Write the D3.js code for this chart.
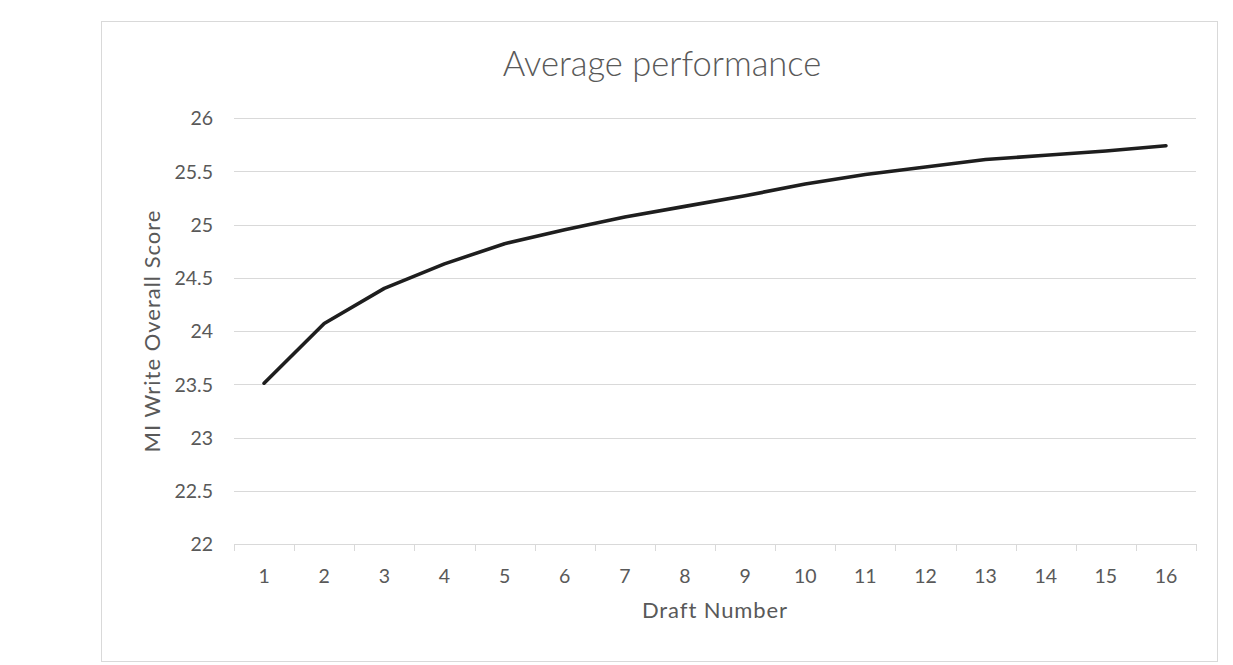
<!DOCTYPE html>
<html>
<head>
<meta charset="utf-8">
<script src="https://cdn.jsdelivr.net/npm/d3@7"></script>
<style>
  html, body { margin: 0; padding: 0; background: #ffffff; }
  svg { display: block; }
  text { font-family: Lato, "Open Sans", sans-serif; fill: #595959; }
</style>
</head>
<body>
<svg id="chart" width="1233" height="665"></svg>
<script>
const drafts = ["1","2","3","4","5","6","7","8","9","10","11","12","13","14","15","16"];
const scores = [23.51, 24.07, 24.40, 24.63, 24.82, 24.95, 25.07, 25.17, 25.27, 25.38, 25.47, 25.54, 25.61, 25.65, 25.69, 25.74];
const yTicks = [22, 22.5, 23, 23.5, 24, 24.5, 25, 25.5, 26];
const chartTitle = "Average performance";
const xTitle = "Draft Number";
const yTitle = "MI Write Overall Score";

const W = 1233, H = 665;
const frame = {x0: 101, y0: 21, x1: 1217, y1: 661};
const plot = {left: 234, right: 1196, top: 118, bottom: 544};

const svg = d3.select("#chart");

svg.append("rect")
  .attr("x", frame.x0 + 0.5).attr("y", frame.y0 + 0.5)
  .attr("width", frame.x1 - frame.x0).attr("height", frame.y1 - frame.y0)
  .attr("fill", "#fff").attr("stroke", "#d9d9d9").attr("stroke-width", 1);

const x = d3.scaleBand().domain(drafts).range([plot.left, plot.right]).padding(0);
const y = d3.scaleLinear().domain([22, 26]).range([plot.bottom, plot.top]);

// gridlines
svg.append("g")
  .selectAll("line")
  .data(yTicks.filter(t => t !== 22))
  .join("line")
  .attr("x1", plot.left).attr("x2", plot.right)
  .attr("y1", d => Math.round(y(d)) + 0.5).attr("y2", d => Math.round(y(d)) + 0.5)
  .attr("stroke", "#d9d9d9").attr("stroke-width", 1);

// y axis labels
const yAxis = d3.axisLeft(y).tickValues(yTicks).tickSize(0).tickPadding(0)
  .tickFormat(d => String(d));
const gy = svg.append("g").attr("transform", `translate(${plot.left - 21},0)`).call(yAxis);
gy.select(".domain").remove();
gy.selectAll("text").attr("font-size", 19.5).attr("fill", "#595959")
  .style("font-family", "Lato, 'Open Sans', sans-serif").attr("dy", "0.35em");

// x axis
const xAxis = d3.axisBottom(x).tickSize(0).tickPadding(0);
const gx = svg.append("g").attr("transform", `translate(0,${plot.bottom})`).call(xAxis);
gx.select(".domain").remove();
gx.selectAll("text").attr("font-size", 19.5).attr("fill", "#595959")
  .style("font-family", "Lato, 'Open Sans', sans-serif").attr("dy", 0).attr("y", 39);

// x axis line and boundary ticks
const bounds = drafts.map(d => x(d)).concat([x(drafts[drafts.length - 1]) + x.bandwidth()]);
svg.append("line")
  .attr("x1", plot.left).attr("x2", plot.right)
  .attr("y1", plot.bottom + 0.5).attr("y2", plot.bottom + 0.5)
  .attr("stroke", "#d9d9d9").attr("stroke-width", 1);
svg.append("g").selectAll("line").data(bounds).join("line")
  .attr("x1", d => Math.round(d) + 0.5).attr("x2", d => Math.round(d) + 0.5)
  .attr("y1", plot.bottom).attr("y2", plot.bottom + 7)
  .attr("stroke", "#d9d9d9").attr("stroke-width", 1);

// line
const line = d3.line()
  .x((d, i) => x(drafts[i]) + x.bandwidth() / 2)
  .y(d => y(d));
svg.append("path")
  .datum(scores)
  .attr("d", line)
  .attr("fill", "none")
  .attr("stroke", "#1e1e1e")
  .attr("stroke-width", 3.6)
  .attr("stroke-linejoin", "round")
  .attr("stroke-linecap", "round");

// titles
svg.append("text")
  .attr("x", 662).attr("y", 76)
  .attr("text-anchor", "middle")
  .attr("font-size", 34.5)
  .attr("font-weight", 300)
  .text(chartTitle);

svg.append("text")
  .attr("x", (plot.left + plot.right) / 2).attr("y", 618)
  .attr("text-anchor", "middle")
  .attr("font-size", 22)
  .attr("letter-spacing", 0.9)
  .text(xTitle);

svg.append("text")
  .attr("transform", `translate(160,${(plot.top + plot.bottom) / 2}) rotate(-90)`)
  .attr("text-anchor", "middle")
  .attr("font-size", 22)
  .attr("letter-spacing", 1)
  .text(yTitle);
</script>
</body>
</html>
